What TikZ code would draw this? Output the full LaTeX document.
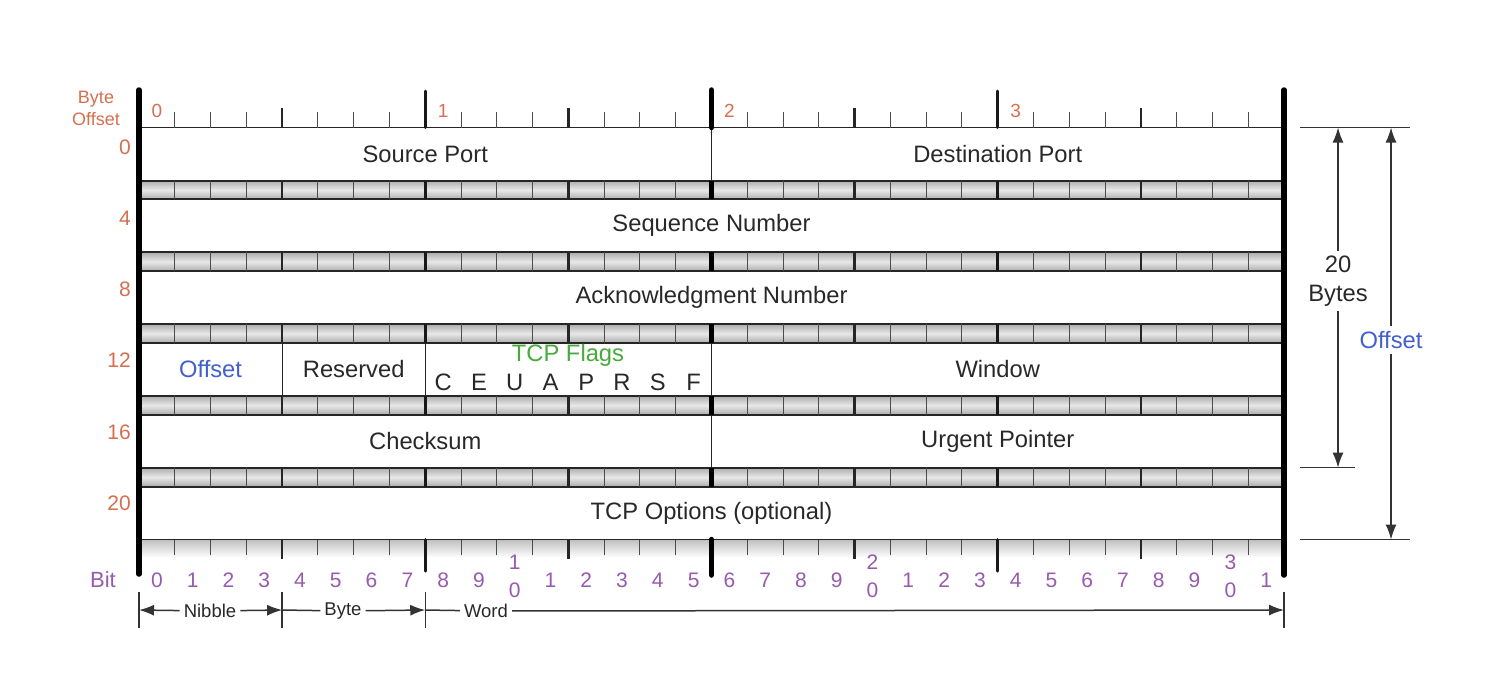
\documentclass[tikz,border=0pt]{standalone}
\usepackage{fontspec}
\setmainfont{Liberation Sans}
\usetikzlibrary{positioning,arrows.meta}

\definecolor{byteorange}{RGB}{214,110,80}
\definecolor{bitpurple}{RGB}{150,90,175}
\definecolor{offblue}{RGB}{65,95,205}
\definecolor{flaggreen}{RGB}{70,170,60}
\definecolor{labelgray}{RGB}{40,40,40}

\newcommand{\bw}{35.78125}
\newcommand{\bigfont}{\fontsize{23.75}{29}\selectfont}

\tikzstyle{field} = [rectangle, draw=black!85, line width=1pt, minimum height=53pt, inner sep=0pt, outer sep=0pt, text=labelgray, font=\bigfont]
\tikzstyle{band} = [rectangle, draw=black!85, line width=2pt, minimum width=1145pt, minimum height=18.8pt, inner sep=0pt, outer sep=0pt, top color=gray!65, bottom color=gray!65, middle color=gray!18]
\tikzstyle{bitnum} = [text=bitpurple, font=\fontsize{21}{28}\selectfont, inner sep=0pt]
\tikzstyle{bytenum} = [text=byteorange, font=\fontsize{21}{24}\selectfont, inner sep=0pt]
\tikzstyle{dimline} = [draw=black!80, line width=1.5pt]
\tikzstyle{unitlabel} = [text=labelgray, font=\fontsize{18.5}{20}\selectfont, inner sep=4pt]

\begin{document}
\begin{tikzpicture}[x=1pt, y=-1pt, >={Latex[length=15pt,width=11pt]}]
        \useasboundingbox (0,0) rectangle (1498,678);

        % header rows
        \node [field, minimum width=572.5pt, anchor=north west] (srcport) at (139,127.5) {Source Port};
        \node [field, minimum width=572.5pt, right=0pt of srcport] (dstport) {Destination Port};
        \node [band, below right=0pt and 0pt of srcport.south west] (band0) {};
        \node [field, minimum width=1145pt, below=0pt of band0] (seqnum) {Sequence Number};
        \node [band, below=0pt of seqnum] (band1) {};
        \node [field, minimum width=1145pt, below=0pt of band1] (acknum) {Acknowledgment Number};
        \node [band, below=0pt of acknum] (band2) {};
        \node [field, minimum width=143.125pt, below right=0pt and 0pt of band2.south west, text=offblue] (offset) {Offset};
        \node [field, minimum width=143.125pt, right=0pt of offset] (reserved) {Reserved};
        \node [field, minimum width=286.25pt, right=0pt of reserved] (flags) {};
        \node [field, minimum width=572.5pt, right=0pt of flags] (window) {Window};
        \node [band, below right=0pt and 0pt of offset.south west] (band3) {};
        \node [field, minimum width=572.5pt, below right=0pt and 0pt of band3.south west] (checksum) {Checksum};
        \node [field, minimum width=572.5pt, right=0pt of checksum] (urgent) {Urgent Pointer};
        \node [band, below right=0pt and 0pt of checksum.south west] (band4) {};
        \node [field, minimum width=1145pt, below=0pt of band4] (options) {TCP Options (optional)};
        \node [rectangle, minimum width=1145pt, minimum height=18pt, inner sep=0pt, outer sep=0pt, top color=gray!50, bottom color=white, below=0pt of options] (bitshade) {};
        \draw [black!85, line width=1.5pt] (options.south west) -- (options.south east);

        % flags
        \node [text=flaggreen, font=\bigfont] (tcpflags) at (568,355) {TCP Flags};
        \foreach \l [count=\j from 8] in {C,E,U,A,P,R,S,F}
            \node [text=labelgray, font=\bigfont] (flag\l) at ({139+(\j+0.5)*\bw},382) {\l};

        % ticks in the bands
        \foreach \n in {band0,band1,band2,band3,band4} {
            \foreach \b in {1,...,31}
                \draw [black!70, line width=1pt] ([xshift={\b*\bw}]\n.north west) -- ([xshift={\b*\bw}]\n.south west);
            \foreach \b in {4,12,20,28}
                \draw [black!85, line width=2.5pt] ([xshift={\b*\bw}]\n.north west) -- ([xshift={\b*\bw}]\n.south west);
            \foreach \b in {8,24}
                \draw [black!90, line width=3pt] ([xshift={\b*\bw}]\n.north west) -- ([xshift={\b*\bw}]\n.south west);
            \draw [black, line width=5.5pt] ([xshift={16*\bw}]\n.north west) -- ([xshift={16*\bw}]\n.south west);
        }

        % top ruler
        \foreach \b in {1,...,31}
            \draw [black!70, line width=1pt] ({139+\b*\bw},112) -- ({139+\b*\bw},127.5);
        \foreach \b in {4,12,20,28}
            \draw [black!85, line width=2.5pt] ({139+\b*\bw},108) -- ({139+\b*\bw},127.5);
        \foreach \b in {8,24}
            \draw [black!90, line width=3pt, line cap=round] ({139+\b*\bw},91) -- ({139+\b*\bw},127.5);
        \draw [black, line width=5.5pt, line cap=round] ({139+16*\bw},90) -- ({139+16*\bw},127.5);

        % bottom ruler
        \foreach \b in {1,...,31}
            \draw [black!70, line width=1pt] ({139+\b*\bw},539.5) -- ({139+\b*\bw},555);
        \foreach \b in {4,12,20,28}
            \draw [black!85, line width=2.5pt] ({139+\b*\bw},539.5) -- ({139+\b*\bw},559);
        \foreach \b in {8,24}
            \draw [black!90, line width=3pt, line cap=round] ({139+\b*\bw},539.5) -- ({139+\b*\bw},571);
        \draw [black, line width=5.5pt, line cap=round] ({139+16*\bw},539.5) -- ({139+16*\bw},575);

        % outer bars
        \draw [black, line width=5.5pt, line cap=round] (139,90) -- (139,574);
        \draw [black, line width=5.5pt, line cap=round] (1284,90) -- (1284,575);

        % byte offsets
        \node [text=byteorange, font=\fontsize{18}{22}\selectfont, align=center, inner sep=0pt] (byteoffset) at (96,108) {Byte\\Offset};
        \foreach \k in {0,...,3}
            \node [bytenum, font=\fontsize{19}{22}\selectfont] (byte\k) at ({139+(8*\k+0.5)*\bw},111) {\k};
        \foreach \o [count=\k from 0] in {0,4,8,12,16,20}
            \node [bytenum, anchor=east] (off\o) at (131,{147+71.2*\k}) {\o};

        % bit numbers
        \node [bitnum, font=\fontsize{22}{24}\selectfont] (bitlabel) at (103,580) {Bit};
        \foreach \i in {0,...,31} {
            \pgfmathtruncatemacro{\d}{mod(\i,10)}
            \pgfmathtruncatemacro{\t}{int(\i/10)}
            \pgfmathtruncatemacro{\stack}{and(\d==0,\i>0)}
            \ifnum\stack=1
                \node [bitnum, align=center] (bit\i) at ({139+(\i+0.5)*\bw},576) {\t\\0};
            \else
                \node [bitnum] (bit\i) at ({139+(\i+0.5)*\bw},580) {\d};
            \fi
        }

        % nibble, byte, word
        \coordinate (bar0) at (139,610);
        \coordinate (bar1) at ({139+4*\bw},610);
        \coordinate (bar2) at ({139+8*\bw},610);
        \coordinate (bar3) at (1284,610);
        \foreach \c in {bar0,bar1,bar2,bar3}
            \draw [black!80, line width=1.5pt] (\c) ++(0,-18) -- ++(0,36);
        \node [unitlabel] (nibble) at (210,611) {Nibble};
        \node [unitlabel] (byte) at (343,611) {Byte};
        \node [unitlabel] (word) at (486,611) {Word};
        \draw [dimline, ->] (nibble) -- (bar0);
        \draw [dimline, ->] (nibble) -- (bar1);
        \draw [dimline] (bar1) -- (byte);
        \draw [dimline, ->] (byte) -- (bar2);
        \draw [dimline] (bar2) -- (word);
        \draw [dimline, ->] (word) -- (bar3);

        % header length
        \draw [dimline] (1300,127.5) -- (1410,127.5);
        \draw [dimline] (1300,467.7) -- (1355,467.7);
        \draw [dimline] (1300,539.5) -- (1410,539.5);
        \coordinate (hdrtop) at (1338,127.5);
        \coordinate (hdrbot) at (1338,467.7);
        \coordinate (offtop) at (1391,127.5);
        \coordinate (offbot) at (1391,539.5);
        \node [text=labelgray, font=\bigfont, align=center, inner sep=5pt] (hdrlen) at (1338,281) {20\\Bytes};
        \node [text=offblue, font=\bigfont, inner sep=5pt] (dataoff) at (1391,340) {Offset};
        \draw [dimline, ->] (hdrlen) -- (hdrtop);
        \draw [dimline, ->] (hdrlen) -- (hdrbot);
        \draw [dimline, ->] (dataoff) -- (offtop);
        \draw [dimline, ->] (dataoff) -- (offbot);
\end{tikzpicture}
\end{document}
